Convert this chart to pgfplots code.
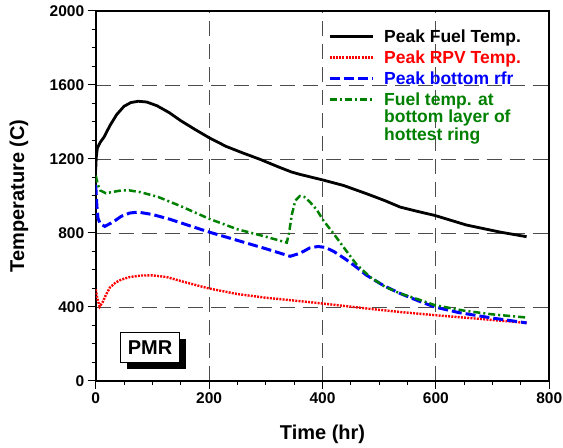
\documentclass[border=0pt]{standalone}
\usepackage{pgfplots}
\pgfplotsset{compat=1.18}
\usepackage{fontspec}
\setmainfont{Liberation Sans}
\usetikzlibrary{shadows}
\definecolor{fgreen}{RGB}{0,128,0}

\begin{document}
\begin{tikzpicture}
\begin{axis}[
  scale only axis, width=453.6pt, height=370pt,
  xmin=0, xmax=800, ymin=0, ymax=2000,
  xtick={0,200,...,800}, ytick={0,400,...,2000},
  minor x tick num=3, minor y tick num=3,
  tick pos=left, tick align=outside,
  major tick length=8pt, minor tick length=4pt,
  every tick/.style={black, line width=1pt},
  axis line style={line width=2.2pt},
  grid=major,
  major grid style={dash pattern=on 15pt off 8pt, black!70, line width=0.9pt},
  ticklabel style={font=\fontsize{15.5}{15.5}\selectfont\bfseries},
  /pgf/number format/assume math mode=true,
  /pgf/number format/1000 sep={},
  xlabel={Time (hr)}, ylabel={Temperature (C)},
  every axis x label/.style={at={(axis description cs:0.5,-0.143)}, anchor=center,
    font=\fontsize{20}{20}\selectfont\bfseries},
  every axis y label/.style={at={(axis description cs:-0.169,0.5)}, anchor=center, rotate=90,
    font=\fontsize{20}{20}\selectfont\bfseries},
  legend style={at={(0.512,0.956)}, anchor=north west, draw=none, fill=none,
    inner sep=0pt, font=\fontsize{17.5}{16}\selectfont\bfseries,
    cells={anchor=base west}, nodes={inner sep=2pt}, row sep=2.8pt, column sep=8pt},
  legend image code/.code={\draw[#1] (0pt,5.5pt) -- (43pt,5.5pt);},
]
\addplot[black, line width=2.8pt] coordinates {
(0,1140) (1,1210) (3,1260) (8,1290) (15,1320) (25,1380) (37,1440) (50,1485)
(62,1505) (75,1512) (90,1508) (108,1488) (130,1450) (150,1407) (175,1360)
(200,1315) (230,1268) (260,1232) (290,1198) (320,1160) (345,1130) (360,1117)
(400,1087) (437,1057) (478,1012) (510,975) (537,940) (570,915) (598,895)
(654,843) (713,805) (760,780)};
\addlegendentry{Peak Fuel Temp.}
\addplot[red, line width=2.4pt, dash pattern=on 2pt off 1.2pt] coordinates {
(0,495) (3,445) (7,402) (12,425) (18,465) (25,505) (35,532) (45,548) (60,562)
(80,570) (100,571) (125,562) (160,532) (200,500) (250,470) (300,450) (343,437)
(400,419) (478,392) (540,372) (598,356) (680,335) (760,314)};
\addlegendentry{\textcolor{red}{Peak RPV Temp.}}
\addplot[blue, line width=3pt, dash pattern=on 10pt off 4pt] coordinates {
(0,1060) (2,950) (4,880) (8,850) (16,836) (30,858) (45,890) (60,908) (75,913)
(100,900) (130,875) (160,845) (200,805) (250,760) (300,715) (343,674) (360,690)
(378,720) (392,727) (405,722) (420,700) (440,660) (460,615) (478,571) (507,517)
(537,473) (570,432) (598,400) (640,370) (700,340) (760,314)};
\addlegendentry{\textcolor{blue}{Peak bottom rfr}}
\addplot[fgreen, line width=2.5pt, dash pattern=on 7pt off 3pt on 2pt off 3pt] coordinates {
(0,1110) (4,1060) (8,1030) (18,1015) (30,1022) (45,1030) (60,1030) (80,1020)
(110,995) (150,945) (200,877) (250,820) (300,780) (337,748) (341,800) (346,900)
(352,975) (360,1000) (368,995) (378,967) (390,925) (401,870) (420,795) (437,724)
(460,630) (484,562) (510,510) (537,473) (570,440) (598,410) (650,380) (700,360)
(760,343)};
\addlegendentry{\textcolor{fgreen}{\begin{tabular}[t]{@{}l@{}}Fuel temp. at\\bottom layer of\\hottest ring\end{tabular}}}
\node[draw=black, fill=white, line width=0.8pt, inner sep=0pt,
  minimum width=58.6pt, minimum height=30pt,
  font=\fontsize{20}{20}\selectfont\bfseries,
  drop shadow={shadow xshift=6.5pt, shadow yshift=-6.5pt, opacity=1, fill=black}]
  at (axis cs:96,180) {PMR};
\end{axis}
\pgfresetboundingbox
\path[use as bounding box] ([shift={(-95.7pt,-67pt)}]current axis.south west)
  rectangle ([shift={(13.7pt,11pt)}]current axis.north east);
\end{tikzpicture}
\end{document}
